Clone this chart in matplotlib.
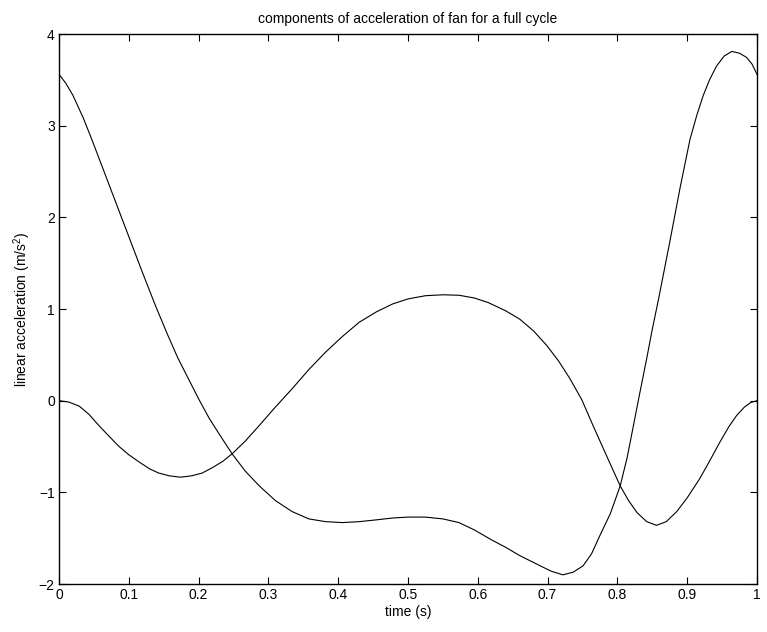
import matplotlib
matplotlib.use("Agg")
from matplotlib import pyplot as plt

plt.rcParams['font.family'] = ['Liberation Sans', 'DejaVu Sans']
plt.rcParams['mathtext.fontset'] = 'custom'
plt.rcParams['mathtext.rm'] = 'Liberation Sans'

# first component (starts at ~3.56)
t_a = [0.000, 0.010, 0.020, 0.035, 0.048, 0.062, 0.076, 0.090, 0.105, 0.120,
       0.138, 0.155, 0.170, 0.186, 0.200, 0.215, 0.230, 0.248, 0.267, 0.287,
       0.310, 0.334, 0.358, 0.382, 0.406, 0.430, 0.455, 0.478, 0.500, 0.525,
       0.550, 0.573, 0.595, 0.620, 0.640, 0.660, 0.689, 0.705, 0.722, 0.737,
       0.751, 0.763, 0.775, 0.790, 0.804, 0.814, 0.823, 0.832, 0.842, 0.850,
       0.859, 0.867, 0.875, 0.890, 0.904, 0.914, 0.923, 0.932, 0.942, 0.953,
       0.964, 0.975, 0.985, 0.993, 1.000]
acc_a = [3.56, 3.46, 3.33, 3.08, 2.83, 2.55, 2.27, 1.99, 1.69, 1.39,
         1.04, 0.73, 0.47, 0.23, 0.02, -0.19, -0.37, -0.58, -0.77, -0.93,
         -1.09, -1.21, -1.29, -1.32, -1.33, -1.32, -1.30, -1.28, -1.27, -1.27,
         -1.29, -1.33, -1.41, -1.52, -1.60, -1.69, -1.80, -1.86, -1.90, -1.87,
         -1.80, -1.67, -1.47, -1.23, -0.93, -0.62, -0.27, 0.08, 0.46, 0.78,
         1.11, 1.42, 1.73, 2.33, 2.85, 3.12, 3.33, 3.50, 3.65, 3.76,
         3.81, 3.79, 3.745, 3.67, 3.56]

# second component (starts at 0)
t_b = [0.000, 0.014, 0.029, 0.043, 0.057, 0.072, 0.086, 0.100, 0.115, 0.130,
       0.143, 0.158, 0.174, 0.190, 0.205, 0.220, 0.235, 0.248, 0.267, 0.287,
       0.310, 0.334, 0.358, 0.382, 0.406, 0.430, 0.455, 0.478, 0.500, 0.525,
       0.550, 0.573, 0.595, 0.615, 0.640, 0.660, 0.680, 0.699, 0.716, 0.732,
       0.749, 0.765, 0.785, 0.804, 0.816, 0.828, 0.842, 0.856, 0.870, 0.885,
       0.900, 0.918, 0.932, 0.947, 0.960, 0.971, 0.982, 0.991, 1.000]
acc_b = [0.00, -0.015, -0.06, -0.15, -0.27, -0.39, -0.50, -0.59, -0.67, -0.745,
         -0.79, -0.82, -0.835, -0.82, -0.79, -0.73, -0.66, -0.58, -0.44, -0.27,
         -0.07, 0.13, 0.34, 0.53, 0.70, 0.855, 0.97, 1.055, 1.11, 1.145,
         1.155, 1.15, 1.12, 1.07, 0.98, 0.89, 0.76, 0.60, 0.43, 0.24,
         0.01, -0.27, -0.61, -0.93, -1.09, -1.22, -1.32, -1.36, -1.32, -1.21,
         -1.06, -0.85, -0.66, -0.45, -0.28, -0.16, -0.07, -0.02, 0.00]

xticks = [0, 0.1, 0.2, 0.3, 0.4, 0.5, 0.6, 0.7, 0.8, 0.9, 1]
xticklabels = ['0', '0.1', '0.2', '0.3', '0.4', '0.5', '0.6', '0.7', '0.8', '0.9', '1']
yticks = [-2, -1, 0, 1, 2, 3, 4]

fig = plt.figure(figsize=(7.67, 6.32), dpi=100)
ax = fig.add_axes([59/767, 1 - 584/632, 698/767, 550/632])

ax.plot(t_a, acc_a, color='black', linewidth=0.8)
ax.plot(t_b, acc_b, color='black', linewidth=0.8)

ax.set_xlim(0, 1)
ax.set_ylim(-2, 4)
ax.set_xticks(xticks)
ax.set_xticklabels(xticklabels)
ax.set_yticks(yticks)
ax.tick_params(direction='in', top=True, right=True, length=5, width=0.8,
               labelsize=10, pad=3)
for s in ax.spines.values():
    s.set_linewidth(1.0)

ax.set_title('components of acceleration of fan for a full cycle', fontsize=10, pad=8)
ax.set_xlabel('time (s)', fontsize=10, labelpad=2)
ax.set_ylabel(r'linear acceleration (m/s$^{\mathregular{2}}$)', fontsize=10, labelpad=4)

fig.savefig('out.png', dpi=100)
